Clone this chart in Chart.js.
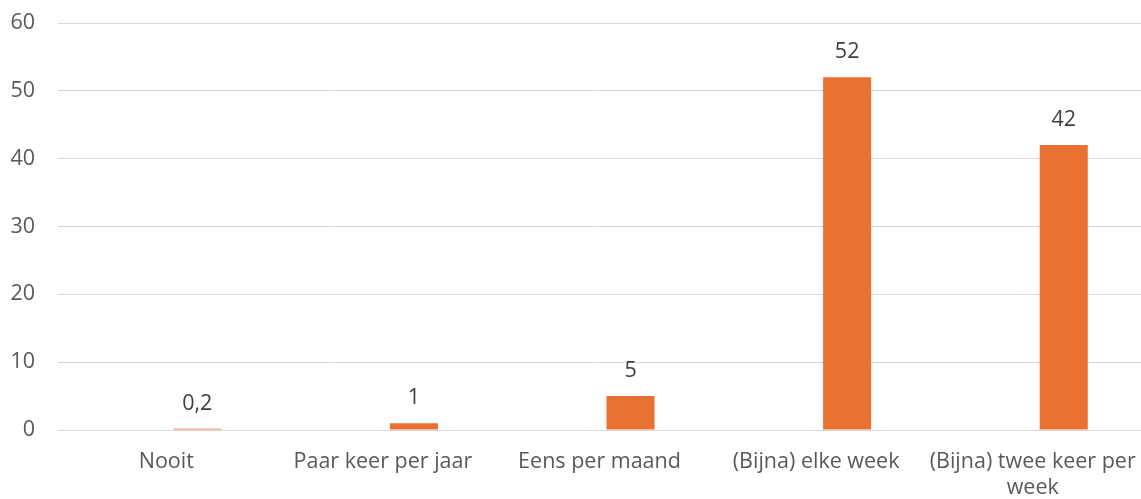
<!DOCTYPE html>
<html>
<head>
<meta charset="utf-8">
<script src="https://cdn.jsdelivr.net/npm/chart.js@4/dist/chart.umd.min.js"></script>
<style>
	html, body { margin: 0; padding: 0; background: #ffffff; }
	#wrap { width: 1141px; height: 499px; }
</style>
</head>
<body>
<div id="wrap"><canvas id="ChartFrequentie"></canvas></div>
<script>
// --------------
// DATA
// --------------
const categories = [
	"Nooit",
	"Paar keer per jaar",
	"Eens per maand",
	"(Bijna) elke week",
	["(Bijna) twee keer per", "week"],
];
// lege eerste reeks (zoals in het origineel, daardoor staan de bars rechts van het midden)
const valuesLeeg = [null, null, null, null, null];
const values = [0.2, 1, 5, 52, 42];
const yTicks = [0, 10, 20, 30, 40, 50, 60];

const barColor = "#E97132";
const textColor = "#595959";
const fontFamily = "'Open Sans', 'Noto Sans', sans-serif";
const fontSize = 21.5;

// labels boven de bars, met komma als decimaalteken
const valueLabels = {
	id: "valueLabels",
	afterDatasetsDraw(chart) {
		const ctx = chart.ctx;
		const meta = chart.getDatasetMeta(1);
		ctx.save();
		ctx.fillStyle = "#404040";
		ctx.font = fontSize + "px " + fontFamily;
		ctx.textAlign = "center";
		ctx.textBaseline = "alphabetic";
		meta.data.forEach((bar, i) => {
			const txt = String(values[i]).replace(".", ",");
			ctx.fillText(txt, bar.x, bar.y - 19);
		});
		ctx.restore();
	},
};

const dataFrequentie = {
	labels: categories,
	datasets: [
		{
			label: "",
			data: valuesLeeg,
			backgroundColor: "#A5A5A5",
			borderWidth: 0,
			barPercentage: 0.774,
			categoryPercentage: 0.573,
		},
		{
			label: "Frequentie",
			data: values,
			backgroundColor: barColor,
			borderWidth: 0,
			barPercentage: 0.774,
			categoryPercentage: 0.573,
		},
	],
};

const configFrequentie = {
	type: "bar",
	data: dataFrequentie,
	options: {
		responsive: true,
		maintainAspectRatio: false,
		animation: false,
		layout: {
			padding: { top: 23, right: 0, bottom: 0, left: 0 },
		},
		plugins: {
			legend: { display: false },
			tooltip: { enabled: false },
		},
		scales: {
			x: {
				grid: { display: false, drawTicks: false },
				border: { color: "#D9D9D9", width: 1 },
				ticks: {
					color: textColor,
					font: { family: fontFamily, size: fontSize },
					padding: 19,
					maxRotation: 0,
					autoSkip: false,
				},
				afterFit: (scale) => {
					scale.height = 69;
					scale.paddingLeft = 0;
					scale.paddingRight = 0;
				},
			},
			y: {
				min: 0,
				max: 60,
				afterBuildTicks: (scale) => {
					scale.ticks = yTicks.map((v) => ({ value: v }));
				},
				grid: { color: "#D9D9D9", lineWidth: 1, drawTicks: false },
				border: { display: false },
				ticks: {
					color: textColor,
					font: { family: fontFamily, size: fontSize },
					padding: 23,
				},
				afterFit: (scale) => {
					scale.width = 58;
					scale.paddingTop = 0;
					scale.paddingBottom = 0;
				},
			},
		},
	},
	plugins: [valueLabels],
};

const ChartFrequentie = new Chart(
	document.getElementById("ChartFrequentie"),
	configFrequentie
);
</script>
</body>
</html>
